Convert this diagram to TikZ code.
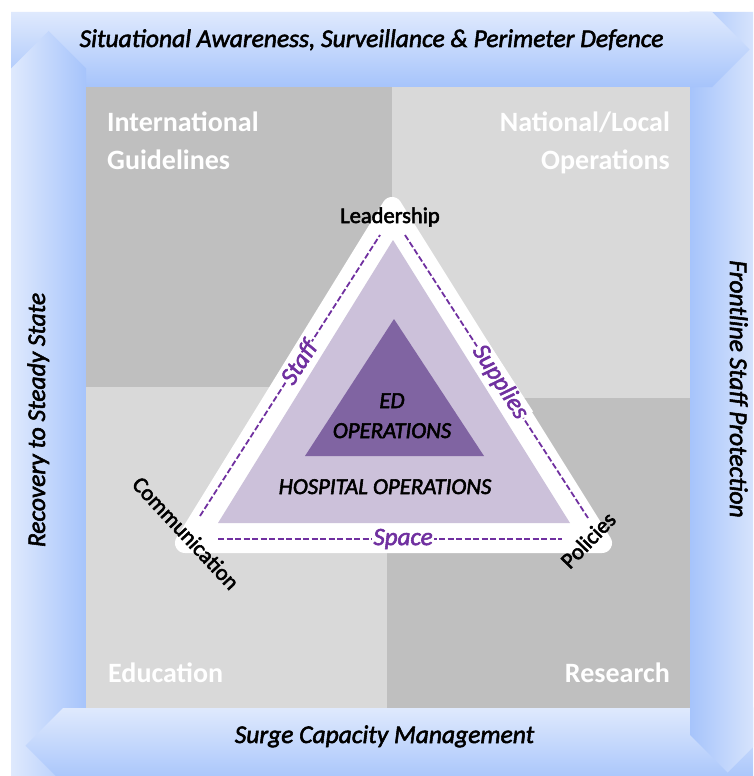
\documentclass[tikz,border=0pt]{standalone}
\usepackage{fontspec}
\setmainfont{Carlito}
\definecolor{bandlight}{RGB}{223,233,253}
\definecolor{banddark}{RGB}{166,196,251}
\definecolor{qdark}{RGB}{191,191,191}
\definecolor{qlight}{RGB}{217,217,217}
\definecolor{plight}{RGB}{204,193,218}
\definecolor{pdark}{RGB}{128,100,162}
\definecolor{pline}{RGB}{112,48,160}
\begin{document}
\begin{tikzpicture}[x=1pt,y=-1pt,
  heavy/.style={execute at begin node={\special{pdf:code 2 Tr 0.55 w}}, execute at end node={\special{pdf:code 0 Tr}}},
  bandtext/.style={heavy, font=\fontsize{25.5}{30}\selectfont\itshape, text=black, inner sep=0pt},
  quadtext/.style={font=\fontsize{28}{34}\selectfont\bfseries, text=white, inner sep=0pt},
  cornertext/.style={heavy, font=\fontsize{22.5}{27}\selectfont, text=black, inner sep=0pt},
  optext/.style={heavy, font=\fontsize{22.8}{27}\selectfont\itshape, text=black, inner sep=0pt},
  dashline/.style={draw=pline, line width=1.8pt, dash pattern=on 6pt off 2.5pt},
  dashlabel/.style={heavy, font=\fontsize{25}{30}\selectfont\itshape, text=pline, fill=white, inner sep=1pt}]
\useasboundingbox (0,0) rectangle (753,776);
\clip (0,0) rectangle (753,776);
\fill[white] (0,0) rectangle (753,776);
% top band
\shade[top color=bandlight, bottom color=banddark] (11,12) -- (712,12) -- (749.5,49.5) -- (712,87) -- (11,87) -- cycle;
% right band
\shade[left color=banddark, right color=bandlight] (690,12) -- (765,12) -- (765,735) -- (727.5,772.5) -- (690,735) -- cycle;
\begin{scope}
  \clip (689,0) rectangle (760,100);
  \shade[top color=bandlight, bottom color=banddark] (11,12) -- (712,12) -- (749.5,49.5) -- (712,87) -- (11,87) -- cycle;
\end{scope}
% bottom band
\shade[top color=bandlight, bottom color=banddark] (25.5,745.5) -- (63,708) -- (765,708) -- (765,783) -- (63,783) -- cycle;
\begin{scope}
  \clip (680,707) rectangle (760,780);
  \shade[left color=banddark, right color=bandlight] (690,12) -- (765,12) -- (765,735) -- (727.5,772.5) -- (690,735) -- cycle;
\end{scope}
% left band
\shade[left color=bandlight, right color=banddark] (11,68.5) -- (48.5,31) -- (86,68.5) -- (86,790) -- (11,790) -- cycle;
\begin{scope}
  \clip (0,700) rectangle (87,780);
  \shade[top color=bandlight, bottom color=banddark] (25.5,745.5) -- (63,708) -- (765,708) -- (765,783) -- (63,783) -- cycle;
\end{scope}
% quadrants
\fill[qdark] (86,87) rectangle (392,387);
\fill[qlight] (392,87) rectangle (690,398);
\fill[qlight] (86,387) rectangle (387,708);
\fill[qdark] (387,398) rectangle (690,708);
% band texts
\node[bandtext, anchor=base] (aw) at (371.5,47) {Situational Awareness, Surveillance \& Perimeter Defence};
\node[bandtext, anchor=base] (sc) at (384.5,743) {Surge Capacity Management};
\node[bandtext, anchor=base, rotate=90] (rs) at (45,420) {Recovery to Steady State};
\node[bandtext, anchor=base, rotate=-90] (fs) at (730,389) {Frontline Staff Protection};
% quadrant texts
\node[quadtext, anchor=base west] (ig1) at (107,131) {International};
\node[quadtext, anchor=base west] (ig2) at (107,169) {Guidelines};
\node[quadtext, anchor=base east] (nl1) at (670,131) {National/Local};
\node[quadtext, anchor=base east] (nl2) at (670,169) {Operations};
\node[quadtext, anchor=base west] (ed) at (108,682) {Education};
\node[quadtext, anchor=base east] (rs2) at (670,682) {Research};
% triangles
\filldraw[white, line width=20pt, line join=round] (392,207) -- (185,543) -- (602,543) -- cycle;
\fill[plight] (393,240) -- (218,523) -- (570,523) -- cycle;
\fill[pdark] (394,319) -- (305,456) -- (484,456) -- cycle;
% dashed lines
\coordinate (l1) at (200,516);
\coordinate (l2) at (380,235);
\coordinate (r1) at (405,235);
\coordinate (r2) at (588,518);
\coordinate (b1) at (218,539);
\coordinate (b2) at (562,539);
\draw[dashline] (l1) -- node[dashlabel, sloped, pos=0.548] (staff) {Staff} (l2);
\draw[dashline] (r1) -- node[dashlabel, sloped, pos=0.52] (supp) {Supplies} (r2);
\draw[dashline] (b1) -- node[dashlabel, pos=0.538] (space) {Space} (b2);
% center texts
\node[optext, anchor=base] (ed1) at (392,408) {ED};
\node[optext, anchor=base] (ed2) at (392,438) {OPERATIONS};
\node[optext, anchor=base] (hosp) at (385,494) {HOSPITAL OPERATIONS};
% corner labels
\node[cornertext, anchor=base] (lead) at (390,223) {Leadership};
\node[cornertext, rotate=-47] (comm) at (186,533) {Communication};
\node[cornertext, rotate=46] (pol) at (588,540) {Policies};
\end{tikzpicture}
\end{document}
